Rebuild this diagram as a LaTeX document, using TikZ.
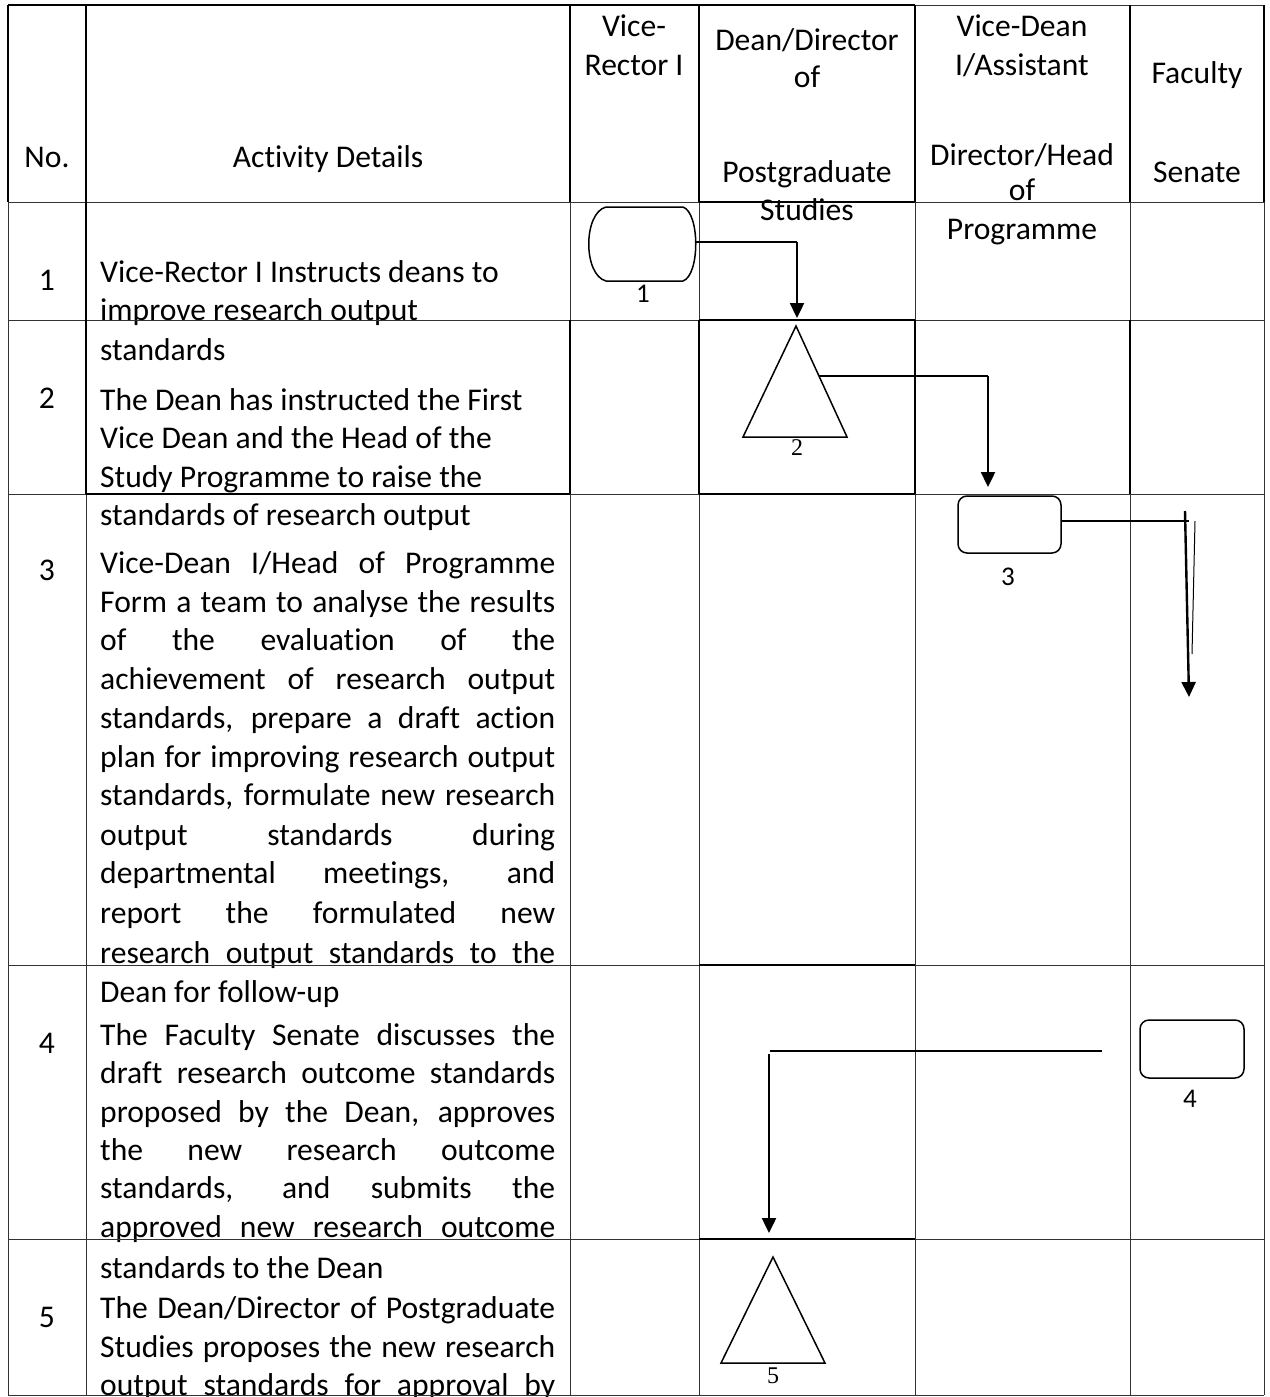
\documentclass[tikz,border=0pt]{standalone}
\usepackage{fontspec}
\setmainfont{Carlito}[Ligatures=NoCommon]
\newfontfamily\numserif{Liberation Serif}
\usetikzlibrary{arrows.meta}
\newcommand{\jline}[1]{\makebox[455pt][s]{#1}}
\begin{document}
\begin{tikzpicture}[x=1pt,y=-1pt,
  txt/.style={inner sep=0pt, anchor=base west, font=\fontsize{31.6}{38}\selectfont},
  ctxt/.style={inner sep=0pt, anchor=base, font=\fontsize{31.6}{38}\selectfont},
  thinrule/.style={line width=0.9pt, draw=black!80},
  thickrule/.style={line width=1.9pt, draw=black},
  shp/.style={line width=1.5pt},
  boxnode/.style={draw, line width=1.5pt, rounded corners=9pt, inner sep=0pt},
  lbl/.style={inner sep=0pt, anchor=base, font=\fontsize{27}{30}\selectfont},
  slbl/.style={inner sep=0pt, anchor=base, font=\numserif\fontsize{24}{28}\selectfont},
  hconn/.style={line width=1.6pt},
  varr/.style={line width=2.4pt, -{Triangle[length=15pt,width=14pt]}},
]
\useasboundingbox (0,0) rectangle (1269,1397);
\fill[white] (0,0) rectangle (1269,1397);

% ---------- header text ----------
\node[ctxt] (hno) at (47,167) {No.};
\node[ctxt] (hact) at (328,167) {Activity Details};
\node[ctxt] (hvr1) at (634,37) {Vice-};
\node[ctxt] (hvr2) at (634,76) {Rector I};
\node[ctxt] (hd1) at (807,51) {Dean/Director};
\node[ctxt] (hd2) at (807,88) {of};
\node[ctxt] (hd3) at (807,182) {Postgraduate};
\node[ctxt] (hd4) at (807,220) {Studies};
\node[ctxt] (hv1) at (1022,37) {Vice-Dean};
\node[ctxt] (hv2) at (1022,75) {I/Assistant};
\node[ctxt] (hv3) at (1022,165) {Director/Head};
\node[ctxt] (hv4) at (1022,200) {of};
\node[ctxt] (hv5) at (1022,239) {Programme};
\node[ctxt] (hf1) at (1197,83) {Faculty};
\node[ctxt] (hf2) at (1197,182) {Senate};

% ---------- row numbers ----------
\node[ctxt] (n1) at (47,290) {1};
\node[ctxt] (n2) at (47,408) {2};
\node[ctxt] (n3) at (47,580) {3};
\node[ctxt] (n4) at (47,1053) {4};
\node[ctxt] (n5) at (47,1327) {5};

% ---------- activity text ----------
\node[txt] (a1a) at (100,282) {Vice-Rector I Instructs deans to};
\node[txt] (a1b) at (100,320) {improve research output};
\node[txt] (a1c) at (100,360) {standards};
\node[txt] (a2a) at (100,410) {The Dean has instructed the First};
\node[txt] (a2b) at (100,448) {Vice Dean and the Head of the};
\node[txt] (a2c) at (100,487) {Study Programme to raise the};
\node[txt] (a2d) at (100,525) {standards of research output};
\node[txt] (a3a) at (100,573) {\jline{Vice-Dean I/Head of Programme}};
\node[txt] (a3b) at (100,612) {\jline{Form a team to analyse the results}};
\node[txt] (a3c) at (100,650) {\jline{of the evaluation of the}};
\node[txt] (a3d) at (100,689) {\jline{achievement of research output}};
\node[txt] (a3e) at (100,728) {\jline{standards, prepare a draft action}};
\node[txt] (a3f) at (100,767) {\jline{plan for improving research output}};
\node[txt] (a3g) at (100,805) {\jline{standards, formulate new research}};
\node[txt] (a3h) at (100,845) {\jline{output standards during}};
\node[txt] (a3i) at (100,883) {\jline{departmental meetings, and}};
\node[txt] (a3j) at (100,923) {\jline{report the formulated new}};
\node[txt] (a3k) at (100,963) {\jline{research output standards to the}};
\node[txt] (a3l) at (100,1002) {Dean for follow-up};
\node[txt] (a4a) at (100,1045) {\jline{The Faculty Senate discusses the}};
\node[txt] (a4b) at (100,1083) {\jline{draft research outcome standards}};
\node[txt] (a4c) at (100,1122) {\jline{proposed by the Dean, approves}};
\node[txt] (a4d) at (100,1160) {\jline{the new research outcome}};
\node[txt] (a4e) at (100,1198) {\jline{standards, and submits the}};
\node[txt] (a4f) at (100,1237) {\jline{approved new research outcome}};
\node[txt] (a4g) at (100,1278) {standards to the Dean};
\node[txt] (a5a) at (100,1318) {\jline{The Dean/Director of Postgraduate}};
\node[txt] (a5b) at (100,1357) {\jline{Studies proposes the new research}};
\node[txt] (a5c) at (100,1395) {\jline{output standards for approval by}};

% ---------- table rules ----------
\foreach \yy in {5,202,320,494,965,1239,1395}
  \draw[thinrule] (8,\yy) -- (1264,\yy);
\foreach \xx in {8,86,570,699,915,1130,1264}
  \draw[thinrule] (\xx,5) -- (\xx,1395);
% thick segments
\foreach \yy in {5,202,320,494,965,1239}
  \draw[thickrule] (699,\yy) -- (915,\yy);
\draw[thickrule] (86,494) -- (570,494);
\draw[thickrule] (8,5) -- (699,5);
\foreach \xx in {8,570,699,915,1130}
  \draw[thickrule] (\xx,5) -- (\xx,202);
\draw[thickrule] (86,5) -- (86,494);
\foreach \xx in {570,699,915,1130}
  \draw[thickrule] (\xx,320) -- (\xx,494);
\draw[line width=1.3pt] (1264,5) -- (1264,202);

% ---------- step 1 ----------
\node[inner sep=0pt, minimum width=108pt, minimum height=74pt] (s1) at (642,242) {};
\draw[shp] (606,207) -- (683,207) .. controls (700,213) and (700,275) .. (683,281)
  -- (606,281) .. controls (583,275) and (583,213) .. (606,207) -- cycle;
\node[lbl] (l1) at (643,302) {1};
\coordinate (k1) at (797,242);
\coordinate (e1) at (797,318);
\draw[hconn] (s1.east) -- (k1);
\draw[varr] (k1) -- (e1);

% ---------- step 2 ----------
\coordinate (t2a) at (796,326);
\coordinate (t2l) at (743,437);
\coordinate (t2r) at (847,437);
\draw[shp, line join=miter] (t2a) -- (t2r) -- (t2l) -- cycle;
\node[slbl] (l2) at (797,455) {2};
\coordinate (t2c) at (819,376);
\coordinate (k2) at (988,376);
\coordinate (e2) at (988,487);
\draw[hconn] (t2c) -- (k2);
\draw[varr] (k2) -- (e2);

% ---------- step 3 ----------
\node[boxnode, minimum width=103pt, minimum height=57pt] (b3) at (1009.5,524.5) {};
\node[lbl] (l3) at (1008,585) {3};
\coordinate (k3) at (1189,521);
\coordinate (v3s) at (1185,511);
\coordinate (e3) at (1189,697);
\coordinate (x3a) at (1195,521);
\coordinate (x3b) at (1192,654);
\draw[hconn] (k3 -| b3.east) -- (k3);
\draw[varr] (v3s) -- (e3);
\draw[line width=1pt] (x3a) -- (x3b);

% ---------- step 4 ----------
\node[boxnode, minimum width=104pt, minimum height=58pt] (b4) at (1192,1049) {};
\node[lbl] (l4) at (1190,1107) {4};
\coordinate (k4s) at (1102,1051);
\coordinate (k4) at (770,1051);
\coordinate (k4v) at (769,1054);
\coordinate (e4) at (769,1233);
\draw[line width=2pt] (k4s) -- (k4);
\draw[varr] (k4v) -- (e4);

% ---------- step 5 ----------
\coordinate (t5a) at (773,1257);
\coordinate (t5l) at (721,1363);
\coordinate (t5r) at (825,1363);
\draw[shp, line join=miter] (t5a) -- (t5r) -- (t5l) -- cycle;
\node[slbl] (l5) at (773,1383) {5};
\end{tikzpicture}
\end{document}
